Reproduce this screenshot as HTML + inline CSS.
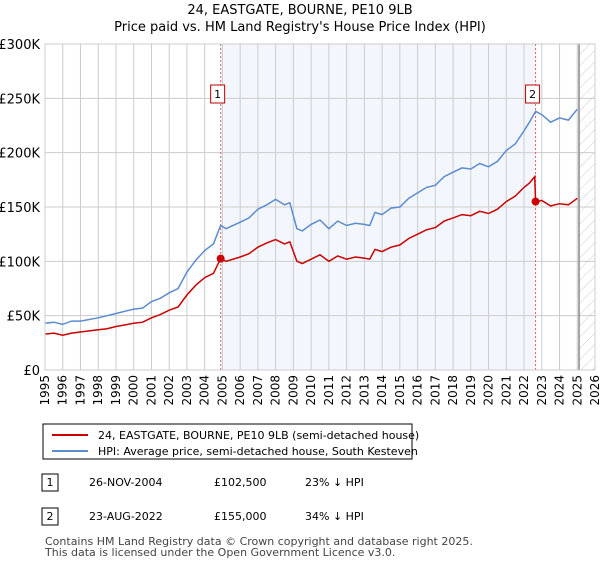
<!DOCTYPE html>
<html><head><meta charset="utf-8"><style>
body{margin:0;background:#fff;font-family:"DejaVu Sans","Liberation Sans",sans-serif;}
svg text{font-family:"DejaVu Sans","Liberation Sans",sans-serif;}
</style></head><body>
<svg id="c" width="600" height="560" xmlns="http://www.w3.org/2000/svg">
<defs><pattern id="hatch" width="8" height="8" patternUnits="userSpaceOnUse" patternTransform="rotate(45)"><line x1="0" y1="0" x2="0" y2="8" stroke="#ccc" stroke-width="1"/></pattern></defs>
<text x="300" y="14" text-anchor="middle" font-size="13">24, EASTGATE, BOURNE, PE10 9LB</text>
<text x="300" y="31" text-anchor="middle" font-size="13">Price paid vs. HM Land Registry's House Price Index (HPI)</text>
<g id="plot"></g>
<g>
<rect x="43" y="424" width="369" height="35" fill="#fff" stroke="#000" stroke-width="1"/>
<line x1="52" y1="435" x2="88" y2="435" stroke="#cc0000" stroke-width="2"/>
<text x="98" y="439" font-size="11">24, EASTGATE, BOURNE, PE10 9LB (semi-detached house)</text>
<line x1="52" y1="451" x2="88" y2="451" stroke="#5b8bd0" stroke-width="2"/>
<text x="98" y="455" font-size="11">HPI: Average price, semi-detached house, South Kesteven</text>
</g>
<g font-size="11">
<rect x="42" y="474" width="16" height="17" fill="#fff" stroke="#000"/><text x="50" y="486" text-anchor="middle">1</text>
<text x="89" y="486">26-NOV-2004</text><text x="214" y="486">£102,500</text><text x="305" y="486">23% ↓ HPI</text>
<rect x="42" y="508" width="16" height="17" fill="#fff" stroke="#000"/><text x="50" y="520" text-anchor="middle">2</text>
<text x="89" y="520">23-AUG-2022</text><text x="214" y="520">£155,000</text><text x="305" y="520">34% ↓ HPI</text>
</g>
<text x="45" y="545" font-size="11" fill="#444">Contains HM Land Registry data © Crown copyright and database right 2025.</text>
<text x="45" y="556" font-size="11" fill="#444">This data is licensed under the Open Government Licence v3.0.</text>
</svg>
<script>
const yTicks=[0,50,100,150,200,250,300];
const yTickLabels=["£0","£50K","£100K","£150K","£200K","£250K","£300K"];
const years=[1995,1996,1997,1998,1999,2000,2001,2002,2003,2004,2005,2006,2007,2008,2009,2010,2011,2012,2013,2014,2015,2016,2017,2018,2019,2020,2021,2022,2023,2024,2025,2026];
const hpiT=[1995,1995.5,1996,1996.5,1997,1998,1998.5,1999,2000,2000.5,2001,2001.5,2002,2002.5,2003,2003.5,2004,2004.5,2004.9,2005.2,2006,2006.5,2007,2007.5,2008,2008.5,2008.8,2009.2,2009.5,2010,2010.5,2011,2011.5,2012,2012.5,2013,2013.3,2013.6,2014,2014.5,2015,2015.5,2016,2016.5,2017,2017.5,2018,2018.5,2019,2019.5,2020,2020.5,2021,2021.5,2022,2022.3,2022.65,2023,2023.5,2024,2024.5,2025];
const hpiV=[43,44,42,45,45,48,50,52,56,57,63,66,71,75,90,101,110,116,133,130,136,140,148,152,157,152,154,130,128,134,138,130,137,133,135,134,133,145,143,149,150,158,163,168,170,178,182,186,185,190,187,192,202,208,220,228,238,235,228,232,230,240];
const ppT=[1995,1995.5,1996,1996.5,1997,1998,1998.5,1999,2000,2000.5,2001,2001.5,2002,2002.5,2003,2003.5,2004,2004.5,2004.9,2005.2,2006,2006.5,2007,2007.5,2008,2008.5,2008.8,2009.2,2009.5,2010,2010.5,2011,2011.5,2012,2012.5,2013,2013.3,2013.6,2014,2014.5,2015,2015.5,2016,2016.5,2017,2017.5,2018,2018.5,2019,2019.5,2020,2020.5,2021,2021.5,2022,2022.3,2022.6,2022.65,2023,2023.5,2024,2024.5,2025];
const ppV=[33,34,32,34,35,37,38,40,43,44,48,51,55,58,69,78,85,89,102.5,100,104,107,113,117,120,116,118,100,98,102,106,100,105,102,104,103,102,111,109,113,115,121,125,129,131,137,140,143,142,146,144,148,155,160,168,172,178,155,156,151,153,152,158];
const saleT=[2004.9,2022.65];
const saleV=[102.5,155];
const saleLabels=["1","2"];
const X0=45,X1=595,Y0=370,Y1=44;
const x=t=>X0+(t-1995)/(2026-1995)*(X1-X0);
const y=v=>Y0-v/300*(Y0-Y1);
const ns="http://www.w3.org/2000/svg",g=document.getElementById('plot');
function el(tag,attrs,parent){const e=document.createElementNS(ns,tag);for(const k in attrs)e.setAttribute(k,attrs[k]);(parent||g).appendChild(e);return e;}
let r=el('rect',{x:x(saleT[0]),y:Y1,width:x(saleT[1])-x(saleT[0]),height:Y0-Y1,fill:'#eef3fc',opacity:0.7});


let h=el('rect',{x:x(2025.1),y:Y1,width:X1-x(2025.1),height:Y0-Y1,fill:'url(#hatch)'});


years.forEach(t=>{
 const l=el('line',{x1:x(t),x2:x(t),y1:Y1,y2:Y0,stroke:'#ccc','stroke-width':1});
 
 
 const tx=el('text',{transform:`translate(${x(t)+4},${Y0+5}) rotate(-90)`,'text-anchor':'end','font-size':12});
 tx.textContent=t;
 
 
});
yTicks.forEach((v,i)=>{
 const l=el('line',{x1:X0,x2:X1,y1:y(v),y2:y(v),stroke:'#ccc','stroke-width':1});
 
 
 const tx=el('text',{x:40,y:y(v)+5,'text-anchor':'end','font-size':13});
 tx.textContent=yTickLabels[i];
 
 
});
let vl=el('line',{x1:x(2025.1),x2:x(2025.1),y1:Y1,y2:Y0,stroke:'#888','stroke-width':1.5});


saleT.forEach((t,i)=>{
 const l=el('line',{x1:x(t),x2:x(t),y1:Y1,y2:Y0,stroke:'#e06060','stroke-width':1,'stroke-dasharray':'2,2'});
 
 
});
const pts=(T,V)=>T.map((t,i)=>x(t).toFixed(1)+','+y(V[i]).toFixed(1)).join(' ');
let hp=el('polyline',{points:pts(hpiT,hpiV),fill:'none',stroke:'#5b8bd0','stroke-width':1.5});


let pp=el('polyline',{points:pts(ppT,ppV),fill:'none',stroke:'#cc0000','stroke-width':1.5});


saleT.forEach((t,i)=>{
 const c=el('circle',{cx:x(t),cy:y(saleV[i]),r:4,fill:'#cc0000'});
 
 
 const b=el('rect',{x:x(t)-10,y:85,width:14,height:18,fill:'#fff',stroke:'#b00'});
 
 
 const tx=el('text',{x:x(t)-3,y:98,'text-anchor':'middle','font-size':11});
 tx.textContent=saleLabels[i];
 
 
});
let fr=el('rect',{x:X0,y:Y1,width:X1-X0,height:Y0-Y1,fill:'none',stroke:'#ccc'});


</script>
</body></html>
